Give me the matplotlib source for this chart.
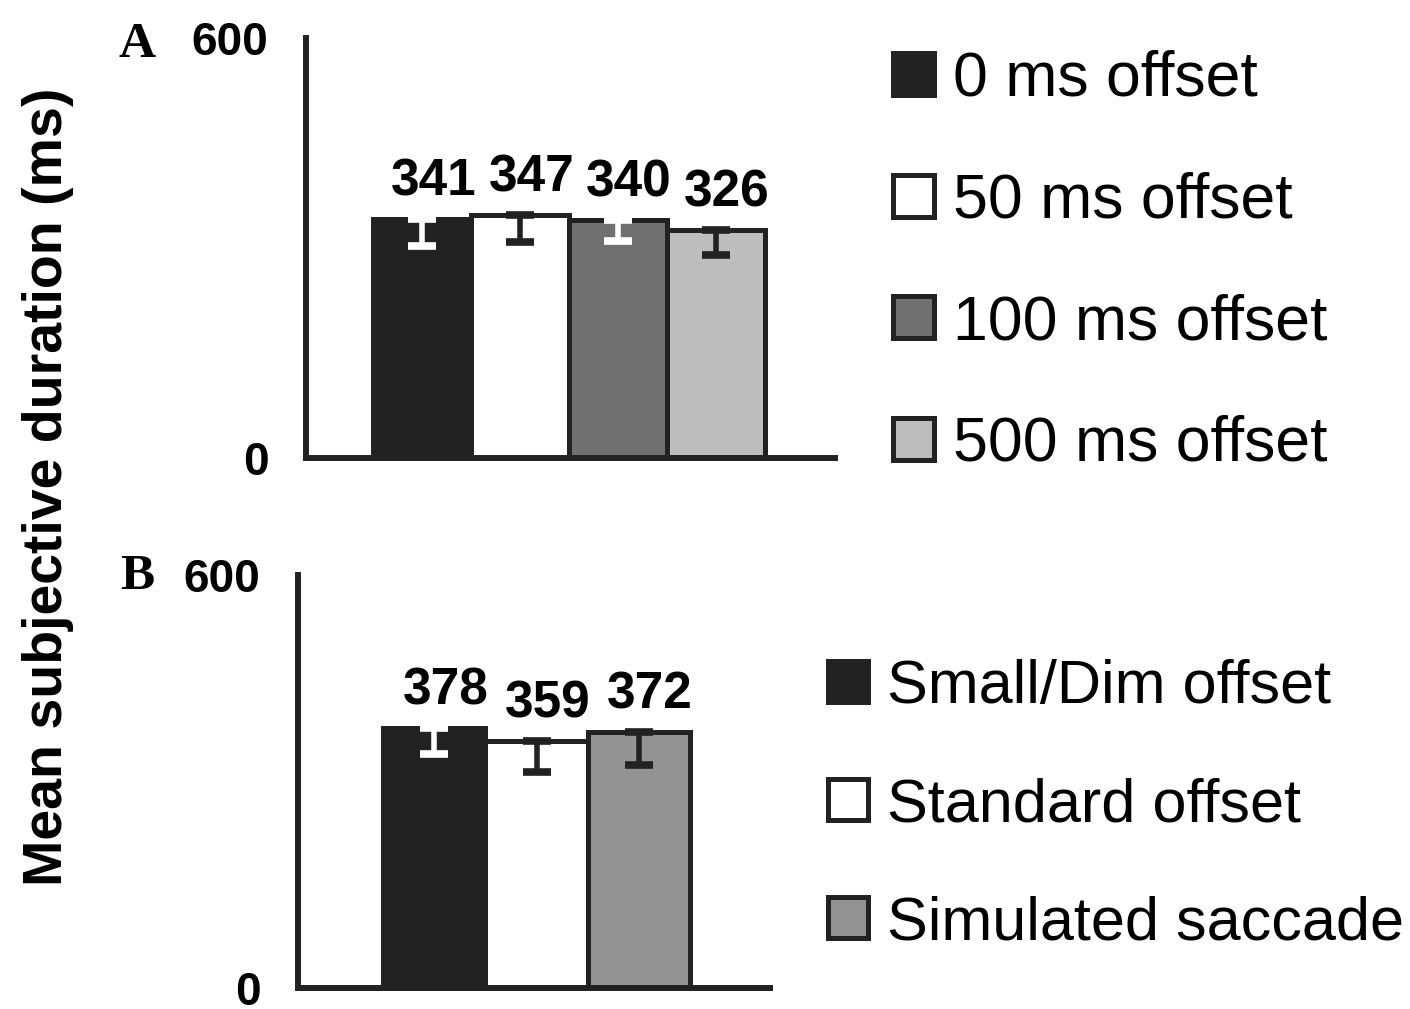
import numpy as np
import matplotlib
matplotlib.use("Agg")
import matplotlib.pyplot as plt
from matplotlib.patches import Patch

# panel A: offset delay conditions
labels_a = ["0 ms offset", "50 ms offset", "100 ms offset", "500 ms offset"]
means_a = [341, 347, 340, 326]
err_a = [38, 38, 30, 36]
colors_a = ["#222222", "#ffffff", "#707070", "#bdbdbd"]
ecol_a = ["#ffffff", "#222222", "#ffffff", "#222222"]

# panel B: offset type conditions
labels_b = ["Small/Dim offset", "Standard offset", "Simulated saccade"]
means_b = [378, 359, 372]
err_b = [38, 45, 48]
colors_b = ["#222222", "#ffffff", "#939393"]
ecol_b = ["#ffffff", "#222222", "#222222"]

yticks = [0, 600]

W, H = 1410, 1009
DARK = "#222222"
sans = ["Liberation Sans", "DejaVu Sans"]
serif = ["Liberation Serif", "DejaVu Serif"]


def px_axes(fig, left, right, top, bottom):
    return fig.add_axes([left / W, 1 - bottom / H, (right - left) / W, (bottom - top) / H])


def draw_panel(ax, means, errs, colors, ecols, xlim):
    x = np.arange(len(means))
    ax.bar(x, means, width=1.0, color=colors, edgecolor=DARK, linewidth=3.6, zorder=2)
    for i in range(len(means)):
        ax.errorbar(x[i], means[i], yerr=[[errs[i]], [0]], fmt="none", ecolor=ecols[i],
                    elinewidth=4, capsize=10, capthick=5.5, zorder=3)
        ax.annotate(str(means[i]), (x[i], means[i]), xytext=(8, 9), textcoords="offset points",
                    ha="center", va="bottom", fontsize=37, fontweight="bold", family=sans)
    ax.set_xlim(*xlim)
    ax.set_ylim(0, 600)
    ax.set_xticks([])
    ax.set_yticks(yticks)
    ax.set_yticklabels([str(t) for t in yticks], fontsize=33, fontweight="bold", family=sans)
    ax.tick_params(axis="y", length=0, pad=27)
    for s in ["top", "right"]:
        ax.spines[s].set_visible(False)
    for s in ["left", "bottom"]:
        ax.spines[s].set_linewidth(4.3)
        ax.spines[s].set_color(DARK)
        ax.spines[s].set_capstyle("projecting")


def add_legend(fig, labels, colors, left, top, spacing, size):
    handles = [Patch(facecolor=c, edgecolor=DARK, linewidth=3.6) for c in colors]
    fig.legend(handles, labels, loc="upper left", bbox_to_anchor=(left / W, 1 - top / H),
               frameon=False, borderpad=0, borderaxespad=0, handlelength=0.66, handleheight=0.66,
               handletextpad=0.3, labelspacing=spacing, prop={"family": sans, "size": size})


fig = plt.figure(figsize=(W / 100, H / 100), dpi=100)

ax_a = px_axes(fig, 306, 835, 38, 458)
draw_panel(ax_a, means_a, err_a, colors_a, ecol_a, (-1.19, 4.22))
ax_b = px_axes(fig, 298, 770, 575, 988)
draw_panel(ax_b, means_b, err_b, colors_b, ecol_b, (-1.33, 3.28))

add_legend(fig, labels_a, colors_a, 893, 50, 1.0, 45)
add_legend(fig, labels_b, colors_b, 828, 659, 1.0, 44)

fig.text(137 / W, 1 - 45 / H, "A", family=serif, fontweight="bold", fontsize=37, ha="center", va="center")
fig.text(137 / W, 1 - 577 / H, "B", family=serif, fontweight="bold", fontsize=37, ha="center", va="center")
fig.text(48 / W, 1 - 487 / H, "Mean subjective duration (ms)", family=sans, fontweight="bold",
         fontsize=40, rotation=90, ha="center", va="center")

fig.savefig("out.png", dpi=100)
